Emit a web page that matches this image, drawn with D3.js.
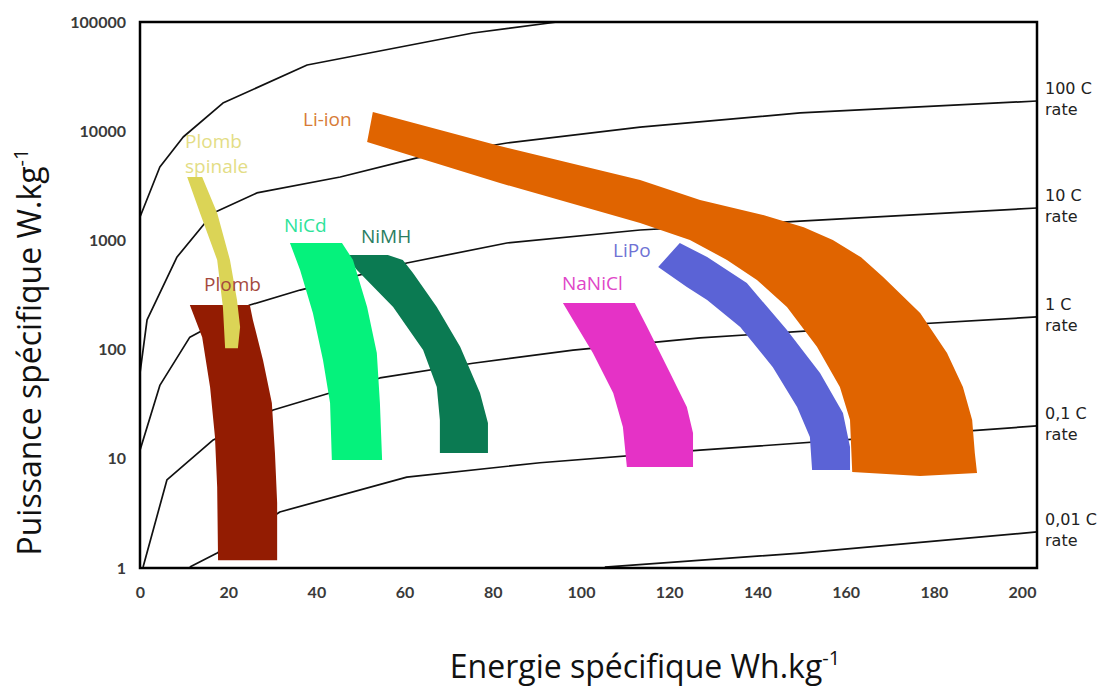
<!DOCTYPE html>
<html>
<head>
<meta charset="utf-8">
<script src="https://cdn.jsdelivr.net/npm/d3@7"></script>
<style>
  html, body { margin: 0; padding: 0; background: #fff; }
  svg { display: block; }
</style>
</head>
<body>
<div id="chart"></div>
<script>
// axis ticks
const energyTicks = [0, 20, 40, 60, 80, 100, 120, 140, 160, 180, 200];
const powerTicks = [1, 10, 100, 1000, 10000, 100000];

// constant C-rate curves, [energy Wh/kg, power W/kg]
const rateNames = ['1000 C', '100 C', '10 C', '1 C', '0,1 C', '0,01 C'];
const rateLabels = [null, '100 C', '10 C', '1 C', '0,1 C', '0,01 C'];
const rate1000 = [[0, 1640], [4.5, 4700], [9.8, 8850], [18.8, 18100], [37.9, 40400], [75.5, 79300], [94.6, 100000]];
const rate100 = [[0, 61], [1.6, 187], [8.4, 705], [16.6, 1780], [26.5, 2720], [45.4, 3810], [62.8, 5690], [83.2, 7800], [113.4, 10900], [149.7, 14700], [203.4, 18900]];
const rate10 = [[0, 12], [4.5, 47], [11.3, 130], [24.9, 256], [36.3, 351], [60.5, 621], [83.2, 947], [113.4, 1245], [149.7, 1500], [203.4, 1980]];
const rate1 = [[0.7, 1.02], [6.1, 6.4], [16.6, 14.9], [30.2, 28], [54.4, 55], [75.5, 75], [98.2, 99], [127, 128], [172.3, 168], [203.4, 199]];
const rate01 = [[11.3, 1.02], [17.5, 1.37], [31.7, 3.26], [60.5, 6.8], [90.7, 9.2], [127, 12], [172.3, 16.2], [203.4, 20]];
const rate001 = [[105.4, 1.02], [149.7, 1.37], [203.4, 2.14]];
const rateCurves = [rate1000, rate100, rate10, rate1, rate01, rate001];

// technology regions, outlines as [energy, power]
const techNames = ['Plomb', 'Plomb spinale', 'NiMH', 'NiCd', 'NaNiCl', 'LiPo', 'Li-ion'];
const plomb = [[11.3, 256], [24.9, 256], [25.6, 187], [27.9, 80], [29.9, 32.4], [30.6, 11.3], [31.1, 3.94], [31.1, 1.18],
  [17.7, 1.18], [17.5, 5.5], [17.0, 15.8], [15.9, 45], [14.1, 130]];
const plombSpinale = [[10.7, 3810], [14.1, 3810], [17.5, 1780], [20.4, 662], [22.0, 285], [22.7, 161], [22.2, 103],
  [19.3, 103], [18.8, 245], [17.5, 662], [13.6, 1780]];
const nicd = [[34.0, 947], [45.8, 947], [48.3, 662], [51.5, 245], [53.7, 93], [54.4, 32.4], [54.9, 9.75],
  [43.5, 9.75], [43.1, 32.4], [41.5, 80], [39.2, 216], [36.3, 536]];
const nimh = [[46.5, 735], [56.2, 735], [59.6, 662], [61.9, 503], [67.3, 245], [72.6, 106], [77.1, 40], [78.9, 21.3], [78.9, 11.3],
  [68.0, 11.3], [68.0, 22.7], [67.3, 45.5], [64.2, 99], [57.4, 245], [49.2, 536]];
const nanicl = [[95.9, 267], [112.2, 267], [115.0, 161], [120.2, 61], [124.0, 29.8], [125.4, 17.2], [125.4, 8.4],
  [110.4, 8.4], [109.5, 19.6], [107.3, 40], [102.7, 93], [98.2, 187]];
const lipo = [[117.5, 571], [122.4, 947], [128.6, 705], [137.6, 407], [146.7, 151], [154.2, 61], [159.4, 26.3], [161.0, 12.8], [161.0, 7.9],
  [152.4, 7.9], [151.9, 15.8], [149.0, 29.8], [143.5, 69], [136.1, 161], [128.6, 285], [124.0, 374]];
const liion = [[52.8, 15000], [81.6, 7320], [113.4, 3570], [127.0, 2340], [141.5, 1700], [150.5, 1320], [157.1, 1010], [163.5, 700], [168.5, 462], [176.9, 216],
  [183.0, 93], [186.6, 45.5], [188.7, 22.7], [189.3, 11.3], [189.8, 7.4], [176.9, 6.96], [161.5, 7.57],
  [161.0, 22.7], [158.7, 45.5], [153.5, 106], [146.7, 245], [139.9, 434], [133.1, 662], [124.7, 1010],
  [113.4, 1443], [81.6, 3355], [51.5, 7960]];
const techShapes = [plomb, plombSpinale, nimh, nicd, nanicl, lipo, liion];

// styling
const fillColor = {
  'Plomb': '#931c02', 'Plomb spinale': '#dbd456', 'NiCd': '#05f27c', 'NiMH': '#0b7a52',
  'NaNiCl': '#e532c6', 'LiPo': '#5b63d6', 'Li-ion': '#e06400'
};
const labelColor = {
  'Plomb': '#a5493d', 'Plomb spinale': '#e3dd85', 'NiCd': '#2de39a', 'NiMH': '#2a7d62',
  'NaNiCl': '#e045c8', 'LiPo': '#6f72d4', 'Li-ion': '#d77b36'
};
// label anchors (left edge, baseline) in pixels
const labelPos = {
  'Plomb spinale': [185, 148], 'Plomb': [204, 291], 'Li-ion': [303, 126], 'NiCd': [284, 232],
  'NiMH': [361, 243], 'NaNiCl': [562, 290], 'LiPo': [613, 257]
};

const width = 1101, height = 686;
const box = { left: 140, right: 1037, top: 22, bottom: 568 };

const svg = d3.select('#chart').append('svg')
  .attr('width', width)
  .attr('height', height);

const x = d3.scaleLinear().domain([0, 203.4]).range([box.left, box.right]);
const y = d3.scaleLog().domain([1, 100000]).range([box.bottom, box.top]);

const line = d3.line().x(d => x(d[0])).y(d => y(d[1]));

// C-rate curves
svg.append('g')
  .selectAll('path')
  .data(rateCurves)
  .join('path')
  .attr('d', line)
  .attr('fill', 'none')
  .attr('stroke', '#111')
  .attr('stroke-width', 1.7)
  .attr('stroke-linejoin', 'round');

// technology areas
const area = d3.line().x(d => x(d[0])).y(d => y(d[1])).curve(d3.curveLinearClosed);
svg.append('g')
  .selectAll('path')
  .data(techShapes)
  .join('path')
  .attr('d', area)
  .attr('fill', (d, i) => fillColor[techNames[i]]);

// plot frame
svg.append('rect')
  .attr('x', box.left)
  .attr('y', box.top)
  .attr('width', box.right - box.left)
  .attr('height', box.bottom - box.top)
  .attr('fill', 'none')
  .attr('stroke', '#000')
  .attr('stroke-width', 2.5);

// axes (labels only)
const xAxis = svg.append('g')
  .attr('transform', `translate(0,${box.bottom})`)
  .call(d3.axisBottom(x).tickValues(energyTicks).tickSize(0).tickPadding(19).tickFormat(d3.format('d')));
const yAxis = svg.append('g')
  .attr('transform', `translate(${box.left},0)`)
  .call(d3.axisLeft(y).tickValues(powerTicks).tickSize(0).tickPadding(14).tickFormat(d3.format('d')));
[xAxis, yAxis].forEach(g => {
  g.select('.domain').remove();
  g.selectAll('text')
    .style('font-family', 'Lato, sans-serif')
    .style('font-weight', '700')
    .style('font-size', '16px')
    .attr('fill', '#3a3a3a');
});

// technology labels
const labels = svg.append('g')
  .style('font-family', '"Open Sans", sans-serif')
  .style('font-size', '19px');
techNames.forEach(name => {
  const [lx, ly] = labelPos[name];
  const t = labels.append('text')
    .attr('x', lx)
    .attr('y', ly)
    .attr('fill', labelColor[name]);
  if (name === 'Plomb spinale') {
    t.append('tspan').attr('x', lx).text('Plomb');
    t.append('tspan').attr('x', lx).attr('dy', 25).text('spinale');
  } else {
    t.text(name);
  }
});

// C-rate labels on the right
const rateG = svg.append('g')
  .style('font-family', '"DejaVu Sans", sans-serif')
  .style('font-size', '16px')
  .attr('fill', '#222');
rateCurves.forEach((pts, i) => {
  if (!rateLabels[i]) return;
  const end = pts[pts.length - 1];
  const yy = y(end[1]);
  rateG.append('text').attr('x', box.right + 8).attr('y', yy - 7).text(rateLabels[i]);
  rateG.append('text').attr('x', box.right + 8).attr('y', yy + 14).text('rate');
});

// axis titles
const titleFont = '"Open Sans", sans-serif';
const xTitle = svg.append('text')
  .attr('x', 645)
  .attr('y', 678)
  .attr('text-anchor', 'middle')
  .style('font-family', titleFont)
  .style('font-size', '32px')
  .attr('fill', '#111');
xTitle.append('tspan').text('Energie spécifique Wh.kg');
xTitle.append('tspan').attr('dy', -13).style('font-size', '20px').text('-1');

const yTitle = svg.append('text')
  .attr('transform', 'translate(41,352) rotate(-90)')
  .attr('text-anchor', 'middle')
  .style('font-family', titleFont)
  .style('font-size', '32px')
  .attr('fill', '#111');
yTitle.append('tspan').text('Puissance spécifique W.kg');
yTitle.append('tspan').attr('dy', -13).style('font-size', '20px').text('-1');
</script>
</body>
</html>
